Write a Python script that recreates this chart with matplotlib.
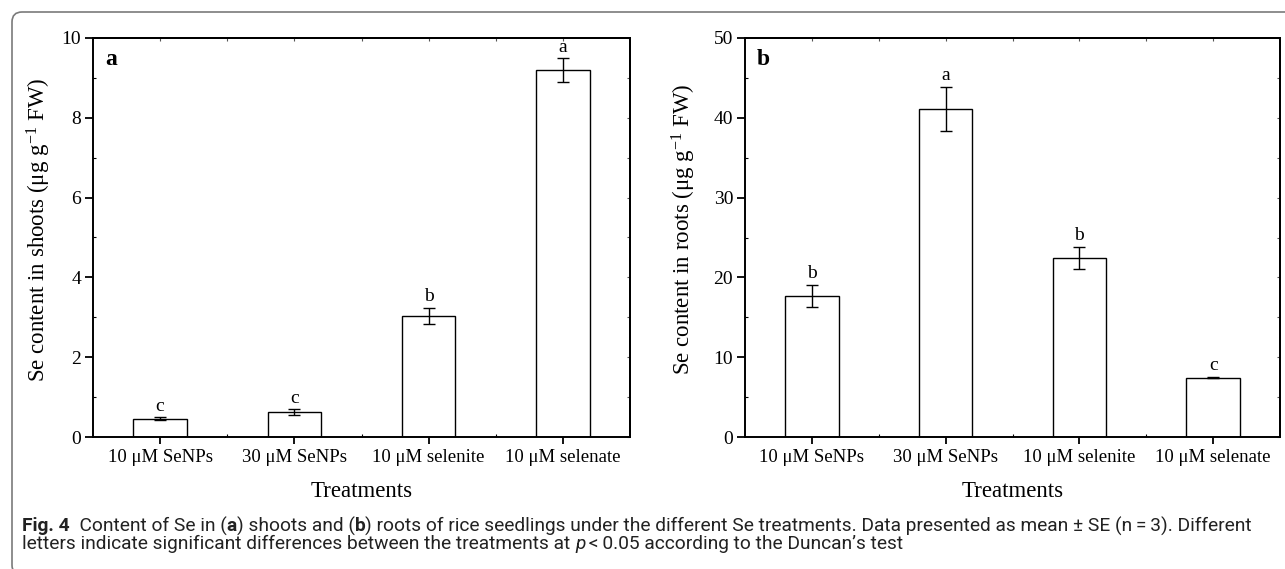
import matplotlib
matplotlib.use("Agg")
import matplotlib.pyplot as plt
import numpy as np
from matplotlib.patches import FancyBboxPatch
from matplotlib.transforms import IdentityTransform
from matplotlib.ticker import FixedLocator, MultipleLocator
from matplotlib import font_manager

# ---------------- data ----------------
treatments = ["10 \u03bcM SeNPs", "30 \u03bcM SeNPs", "10 \u03bcM selenite", "10 \u03bcM selenate"]
shoot_mean = [0.46, 0.62, 3.04, 9.19]
shoot_se = [0.03, 0.07, 0.20, 0.30]
shoot_letters = ["c", "c", "b", "a"]
root_mean = [17.7, 41.1, 22.4, 7.45]
root_se = [1.38, 2.8, 1.4, 0.1]
root_letters = ["b", "a", "b", "c"]

W, H = 1285, 569
plt.rcParams['font.family'] = ['Liberation Serif', 'DejaVu Serif']
plt.rcParams['mathtext.fontset'] = 'custom'
plt.rcParams['mathtext.rm'] = 'Liberation Serif'
plt.rcParams['mathtext.it'] = 'Liberation Serif:italic'

fig = plt.figure(figsize=(W / 100, H / 100), dpi=100)

def px_rect(l, r, t, b):
    return [l / W, (H - b) / H, (r - l) / W, (b - t) / H]

ax_a = fig.add_axes(px_rect(93, 630, 38, 437))
ax_b = fig.add_axes(px_rect(745, 1280, 38, 437))

def panel(ax, means, ses, letters, ymax, ymajor, ylabel, tag, ylab_x):
    x = np.arange(len(treatments))
    ax.bar(x, means, width=0.4, color='white', edgecolor='black', linewidth=1.0, zorder=2)
    ax.errorbar(x, means, yerr=ses, fmt='none', ecolor='black', elinewidth=1.0,
                capsize=4, capthick=1.0, zorder=3)
    for xi, m, s, l in zip(x, means, ses, letters):
        ax.annotate(l, (xi, m + s), xytext=(0, 2), textcoords='offset points',
                    ha='center', va='bottom', fontsize=14)
    ax.set_xlim(-0.5, 3.5)
    ax.set_ylim(0, ymax)
    ax.set_xticks(x)
    ax.set_xticklabels(treatments, fontsize=13.5)
    ax.xaxis.set_minor_locator(FixedLocator([0.5, 1.5, 2.5]))
    ax.yaxis.set_major_locator(MultipleLocator(ymajor))
    ax.yaxis.set_minor_locator(MultipleLocator(ymajor / 2))
    ax.tick_params(axis='y', which='major', direction='out', length=5.5, width=1.3,
                   labelsize=14, pad=3, right=False)
    ax.tick_params(axis='y', which='minor', direction='in', length=2.5, width=0.8, right=False)
    ax.tick_params(axis='x', which='major', direction='out', length=5, width=1.3,
                   labelsize=13.5, pad=4, top=False)
    ax.tick_params(axis='x', which='minor', direction='in', length=2.5, width=0.8, top=False)
    for sp in ax.spines.values():
        sp.set_linewidth(1.4)
    # mirrored inward ticks on right and top
    sec_r = ax.secondary_yaxis('right')
    sec_r.yaxis.set_major_locator(MultipleLocator(ymajor))
    sec_r.yaxis.set_minor_locator(MultipleLocator(ymajor / 2))
    sec_r.tick_params(which='both', direction='in', length=2.5, width=0.8, labelright=False,
                      color='#555555')
    sec_r.spines['right'].set_linewidth(1.4)
    sec_t = ax.secondary_xaxis('top')
    sec_t.set_xticks(x)
    sec_t.xaxis.set_minor_locator(FixedLocator([0.5, 1.5, 2.5]))
    sec_t.tick_params(which='both', direction='in', length=2.5, width=0.8, labeltop=False,
                      color='#555555')
    sec_t.spines['top'].set_linewidth(1.4)
    ax.set_ylabel(ylabel, fontsize=16.5)
    ax.yaxis.set_label_coords(ylab_x, 0.52)
    ax.set_xlabel("Treatments", fontsize=16.5)
    ax.xaxis.set_label_coords(0.5, -0.11)
    ax.text(0.022, 0.945, tag, transform=ax.transAxes, fontsize=17, fontweight='bold',
            ha='left', va='center')

panel(ax_a, shoot_mean, shoot_se, shoot_letters, 10, 2,
      "Se content in shoots (\u03bcg g$^{-1}$ FW)", "a", -0.0745)
panel(ax_b, root_mean, root_se, root_letters, 50, 10,
      "Se content in roots (\u03bcg g$^{-1}$ FW)", "b", -0.088)

# ---------------- frame ----------------
frame = FancyBboxPatch((12, -6), 1300, H - 12 + 6, transform=IdentityTransform(),
                       boxstyle="round,pad=0,rounding_size=10", facecolor='none',
                       edgecolor='#7a7a7a', linewidth=1.2, clip_on=False)
fig.patches.append(frame)

# ---------------- caption ----------------
line1 = [("Fig. 4", 'bold', 'normal'), ("  Content of Se in (", 'normal', 'normal'),
         ("a", 'bold', 'normal'), (") shoots and (", 'normal', 'normal'),
         ("b", 'bold', 'normal'),
         (") roots of rice seedlings under the different Se treatments. Data presented as mean \u00b1 SE (n\u2009=\u20093). Different",
          'normal', 'normal')]
line2 = [("letters indicate significant differences between the treatments at ", 'normal', 'normal'),
         ("p", 'normal', 'italic'),
         ("\u2009<\u20090.05 according to the Duncan\u2019s test", 'normal', 'normal')]

installed = {f.name for f in font_manager.fontManager.ttflist}
cap_font = [f for f in ['Roboto', 'Open Sans', 'DejaVu Sans'] if f in installed]
renderer = fig.canvas.get_renderer()

def draw_line(pieces, x0, ycenter, size):
    objs = []
    cx = x0
    for s, w, st in pieces:
        t = fig.text(cx, H - ycenter, s, transform=IdentityTransform(), fontsize=size,
                     fontweight=w, fontstyle=st, family=cap_font, ha='left', va='center_baseline',
                     color='#222222')
        bb = t.get_window_extent(renderer)
        cx += bb.width
        objs.append(t)
    return objs, cx - x0

objs, wid = draw_line(line1, 22, 524, 10)
for o in objs:
    o.remove()
size = 10 * (1255 - 22) / wid
draw_line(line1, 22, 524, size)
draw_line(line2, 22, 542, size)

fig.savefig("out.png", dpi=100)
